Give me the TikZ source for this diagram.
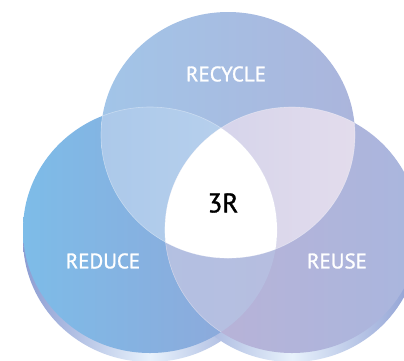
\documentclass[tikz,border=0pt]{standalone}
\usepackage{fontspec}
\setmainfont{PT Sans}[FakeBold=1.2]
\definecolor{leftA}{HTML}{7DBCE8}
\definecolor{leftB}{HTML}{90A5D8}
\definecolor{topA}{HTML}{A2C5E8}
\definecolor{topB}{HTML}{ABB5DC}
\definecolor{rightA}{HTML}{BBB2D6}
\definecolor{rightB}{HTML}{A9B6DE}
\definecolor{tlA}{HTML}{ACC9EA}
\definecolor{tlB}{HTML}{C1D6EF}
\definecolor{trA}{HTML}{CACEEA}
\definecolor{trB}{HTML}{E3DCEC}
\definecolor{lrA}{HTML}{B0C2E3}
\definecolor{lrB}{HTML}{B6BEE0}
\definecolor{rimdark}{HTML}{8C9DD2}
\definecolor{rimlight}{HTML}{E8F2FC}
\tikzset{
  lab/.style={text=white, font=\fontsize{21}{21}\selectfont, inner sep=0pt},
  core/.style={text=black, font=\fontsize{27}{27}\selectfont, inner sep=0pt},
  edge/.style={draw=white, draw opacity=0.35, line width=0.6pt}
}
\begin{document}
\begin{tikzpicture}[x=1pt,y=-1pt]
\useasboundingbox (0,0) rectangle (404,360);
% rims
\shade[left color=rimdark, right color=rimdark, middle color=rimlight]
  (150,239) ellipse [x radius=127, y radius=123];
\shade[left color=rimdark, right color=rimdark, middle color=rimlight]
  (292,239) ellipse [x radius=127, y radius=123];
% main faces
\shade[left color=leftA, right color=leftB] (150,230) ellipse [x radius=127, y radius=123];
\shade[shading=axis, shading angle=45, left color=rightA, right color=rightB]
  (292,230) ellipse [x radius=127, y radius=123];
\shade[left color=topA, right color=topB] (228,135) ellipse [x radius=127, y radius=123];
% top & left
\begin{scope}
  \clip (150,230) ellipse [x radius=127, y radius=123];
  \shade[shading=axis, shading angle=45, left color=tlA, right color=tlB]
    (228,135) ellipse [x radius=127, y radius=123];
\end{scope}
% top & right
\begin{scope}
  \clip (292,230) ellipse [x radius=127, y radius=123];
  \shade[shading=axis, shading angle=45, left color=trA, right color=trB]
    (228,135) ellipse [x radius=127, y radius=123];
\end{scope}
% left & right
\begin{scope}
  \clip (292,230) ellipse [x radius=127, y radius=123];
  \shade[left color=lrA, right color=lrB]
    (150,230) ellipse [x radius=127, y radius=123];
\end{scope}
% all three
\begin{scope}
  \clip (292,230) ellipse [x radius=127, y radius=123];
  \clip (150,230) ellipse [x radius=127, y radius=123];
  \fill[white] (228,135) ellipse [x radius=127, y radius=123];
\end{scope}
% faint inner edges
\begin{scope}
  \clip (150,230) ellipse [x radius=127, y radius=123];
  \draw[edge] (228,135) ellipse [x radius=127, y radius=123];
  \draw[edge] (292,230) ellipse [x radius=127, y radius=123];
\end{scope}
\begin{scope}
  \clip (292,230) ellipse [x radius=127, y radius=123];
  \draw[edge] (228,135) ellipse [x radius=127, y radius=123];
\end{scope}
\begin{scope}
  \clip (228,135) ellipse [x radius=127, y radius=123];
  \draw[edge] (150,230) ellipse [x radius=127, y radius=123];
  \draw[edge] (292,230) ellipse [x radius=127, y radius=123];
\end{scope}
% labels
\node[lab] (recycle) at (226,74) {RECYCLE};
\node[lab] (reduce) at (103,261) {REDUCE};
\node[lab] (reuse) at (337,261) {REUSE};
\node[core] (core) at (223,203) {3R};
\end{tikzpicture}
\end{document}
